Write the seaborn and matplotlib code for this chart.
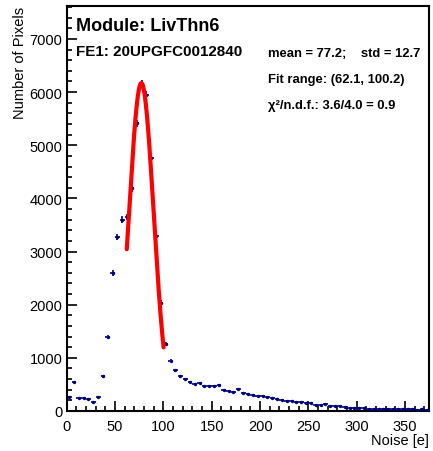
import numpy as np
import pandas as pd
import matplotlib
matplotlib.use("Agg")
import matplotlib.pyplot as plt
import seaborn as sns
from matplotlib.ticker import MultipleLocator

# histogram: 5 e wide bins from 0 to 375
bin_width = 5.0
bin_centers = np.arange(2.5, 375, bin_width)
counts = [
    260, 550, 240, 240, 225, 165, 257, 650, 1400, 2600,
    3280, 3600, 3650, 4190, 5410, 6150, 5950, 4760, 3290, 2040,
    1260, 950, 770, 655, 600, 550, 505, 525, 465, 465,
    465, 480, 395, 380, 362, 413, 338, 320, 302, 288,
    276, 258, 240, 226, 208, 195, 188, 176, 164, 157,
    144, 120, 105, 132, 90, 88, 95, 75, 62, 58,
    52, 50, 46, 44, 40, 42, 36, 38, 34, 36,
    30, 33, 28, 30, 27,
]

# gaussian fit
fit_amp = 6170
fit_mean = 77.2
fit_sigma = 12.7
fit_range = (62.1, 100.2)

df = pd.DataFrame({"noise": bin_centers, "pixels": counts})
fx = np.linspace(fit_range[0], fit_range[1], 200)
fit_df = pd.DataFrame({"noise": fx,
                       "pixels": fit_amp * np.exp(-(fx - fit_mean) ** 2 / (2 * fit_sigma ** 2))})

sns.set_style("ticks")
plt.rcParams["font.family"] = ["Liberation Sans", "DejaVu Sans"]
plt.rcParams.update({"text.color": "black", "axes.labelcolor": "black",
                     "xtick.color": "black", "ytick.color": "black"})

W, H = 433, 452
fig = plt.figure(figsize=(W / 100, H / 100), dpi=100)
ax = fig.add_axes([66.7 / W, 1 - 412 / H, (429.3 - 66.7) / W, (412 - 7) / H])

navy = "#000080"
ax.errorbar(df["noise"], df["pixels"], xerr=bin_width / 2, yerr=np.sqrt(df["pixels"]),
            fmt="none", ecolor=navy, elinewidth=1.2, capsize=0, zorder=2)
sns.scatterplot(data=df, x="noise", y="pixels", ax=ax, color=navy, s=6,
                edgecolor=navy, linewidth=0, zorder=3)
sns.lineplot(data=fit_df, x="noise", y="pixels", ax=ax, color="red", linewidth=3,
             zorder=4)

ax.set_xlim(0, 375)
ax.set_ylim(0, 7620)
ax.xaxis.set_major_locator(MultipleLocator(50))
ax.xaxis.set_minor_locator(MultipleLocator(10))
ax.yaxis.set_major_locator(MultipleLocator(1000))
ax.yaxis.set_minor_locator(MultipleLocator(200))
ax.tick_params(which="both", direction="in", top=False, right=False,
               color="black", width=1.2, labelsize=10.5, labelcolor="black")
ax.tick_params(which="major", length=7)
ax.tick_params(which="minor", length=3.5)
ax.tick_params(axis="x", pad=6)
ax.tick_params(axis="y", pad=3)
for s in ax.spines.values():
    s.set_linewidth(1.5)
    s.set_color("black")

ax.set_xlabel("Noise [e]", loc="right", fontsize=10.5)
ax.xaxis.set_label_coords(1.0, -0.055)
ax.set_ylabel("Number of Pixels", loc="top", fontsize=10.5)
ax.yaxis.set_label_coords(-0.11, 1.0)

def txt(x, y, s, size, **kw):
    fig.text(x / W, 1 - y / H, s, fontsize=size, fontweight="bold", va="baseline",
             ha="left", color="black", **kw)

txt(76, 31, "Module: LivThn6", 13)
txt(76, 56, "FE1: 20UPGFC0012840", 10.9)
txt(268, 57, "mean = 77.2;    std = 12.7", 9.4)
txt(268, 83, "Fit range: (62.1, 100.2)", 9.4)
txt(268, 109, "χ²/n.d.f.: 3.6/4.0 = 0.9", 9.4)

fig.savefig("out.png", dpi=100, facecolor="white")
